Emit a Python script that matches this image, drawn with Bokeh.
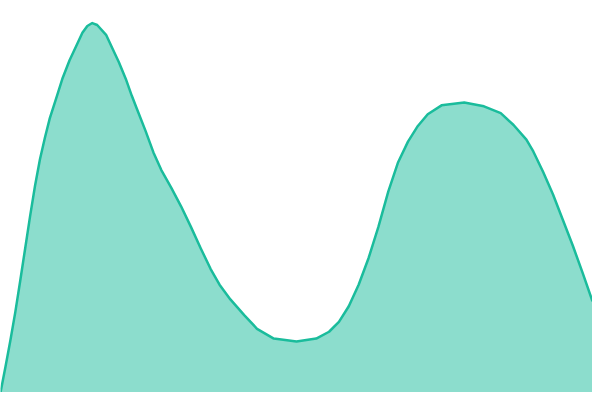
from bokeh.plotting import figure
from bokeh.models import Range1d
from bokeh.embed import file_html
from bokeh.resources import INLINE

# Curve samples (x position, value)
xs = [0, 5, 10, 15, 20, 25, 30, 35, 40, 45, 50, 57, 63, 70, 77, 83, 88, 93, 98,
      107, 113, 120, 127, 133, 138, 147, 155, 163, 173, 183, 193, 203, 213,
      222, 233, 247, 260, 277, 300, 320, 333, 343, 353, 363, 373, 383, 393,
      403, 413, 423, 433, 447, 470, 490, 507, 520, 533, 540, 550, 560, 570,
      580, 590, 600]
ys = [0, 26, 53, 82, 114, 147, 180, 211, 238, 260, 280, 302, 321, 339, 354, 367, 374, 377, 375,
      365, 352, 337, 320, 303, 290, 267, 245, 227, 209, 190, 169, 147, 126,
      110, 95, 79, 65, 55, 52, 55, 62, 72, 88, 110, 137, 169, 205,
      235, 256, 272, 284, 293, 296, 292, 285, 273, 258, 246, 225, 202, 176,
      150, 122, 93]

p = figure(width=592, height=392, output_backend="svg", toolbar_location=None,
           x_range=Range1d(0, 600), y_range=Range1d(0, 400), min_border=0)
p.axis.visible = False
p.grid.visible = False
p.outline_line_color = None
p.background_fill_color = "white"
p.border_fill_color = "white"

p.varea(x=xs, y1=[0] * len(xs), y2=ys, fill_color="#1abc9c", fill_alpha=0.5)
p.line(x=xs, y=ys, line_color="#1abc9c", line_width=2.5, line_join="round")

open("out.html", "w").write(file_html(p, INLINE))
